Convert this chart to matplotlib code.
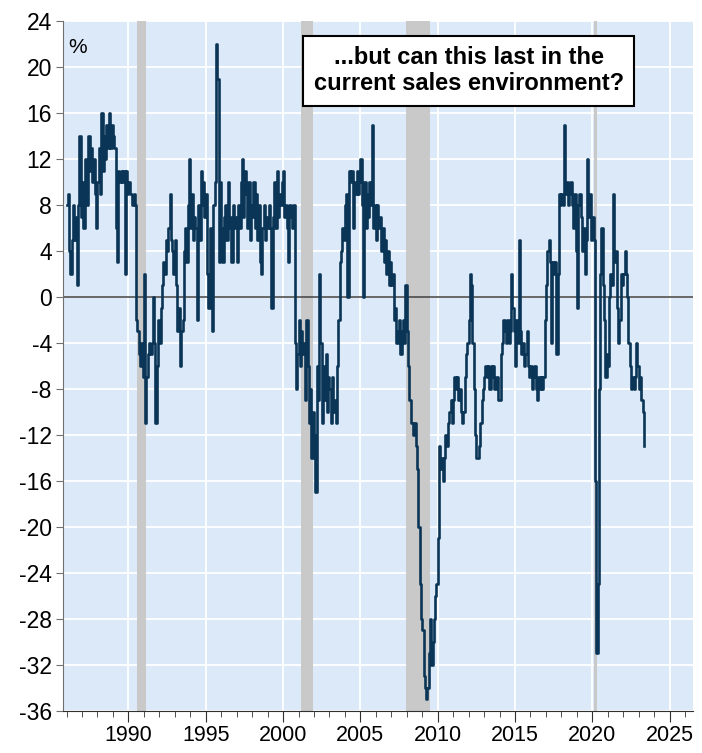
import numpy as np
import matplotlib.pyplot as plt
import matplotlib.ticker as mticker

plt.rcParams['axes.unicode_minus'] = False

## monthly values, %, Jan 1986 - May 2023
v1986 = [8, 9, 4, 2, 5, 8, 5, 7, 1, 8, 14, 7]
v1987 = [10, 6, 12, 9, 8, 14, 11, 13, 10, 12, 9, 6]
v1988 = [10, 13, 9, 16, 11, 14, 12, 15, 13, 16, 13, 15]
v1989 = [14, 13, 6, 3, 11, 10, 11, 10, 11, 2, 11, 9]
v1990 = [10, 9, 9, 8, 9, 8, -2, -3, -5, -6, -4, -7]
v1991 = [2, -11, -7, -5, -4, -5, -4, 0, -4, -11, -6, -2]
v1992 = [-4, -1, 1, 3, 2, 5, 4, 6, 9, 5, 4, 2]
v1993 = [5, 1, -3, -1, -6, -3, -2, 4, 6, 3, 8, 12]
v1994 = [6, 9, 5, 7, 6, -2, 8, 5, 11, 8, 10, 7]
v1995 = [9, 2, -1, 6, 4, -3, 8, 10, 22, 19, 3, 10]
v1996 = [6, 3, 7, 8, 5, 10, 6, 7, 3, 8, 6, 7]
v1997 = [3, 8, 6, 10, 12, 7, 11, 9, 6, 10, 5, 8]
v1998 = [7, 10, 6, 9, 5, 8, 3, 2, 6, 8, 5, 7]
v1999 = [6, 8, 6, -1, 7, 10, 6, 11, 7, 9, 8, 10]
v2000 = [11, 7, 8, 6, 3, 8, 7, 6, 8, -4, -8, -5]
v2001 = [-2, -6, -3, -5, -4, -9, -2, -6, -11, -8, -14, -10]
v2002 = [-12, -17, -6, -9, 2, -4, -11, -6, -9, -5, -10, -7]
v2003 = [-8, -11, -7, -10, -9, -11, -6, -2, 3, 4, 6, 5]
v2004 = [8, 9, 0, 11, 10, 11, 6, 10, 9, 11, 9, 10]
v2005 = [12, 8, 0, 10, 6, 9, 7, 10, 8, 15, 6, 8]
v2006 = [5, 8, 6, 7, 4, 6, 3, 5, 2, 4, 1, 3]
v2007 = [1, 2, -2, -1, -4, -3, -2, -5, -3, -2, -4, 1]
v2008 = [-3, -6, -9, -11, -11, -12, -11, -13, -15, -20, -25, -28]
v2009 = [-29, -33, -34, -35, -34, -31, -28, -32, -30, -28, -26, -25]
v2010 = [-21, -13, -15, -14, -16, -14, -12, -13, -11, -10, -9, -11]
v2011 = [-9, -7, -8, -7, -9, -8, -10, -11, -10, -7, -5, -4]
v2012 = [-2, 2, 1, -4, -8, -12, -14, -14, -13, -11, -9, -8]
v2013 = [-7, -6, -7, -6, -8, -6, -7, -6, -8, -7, -7, -9]
v2014 = [-9, -5, -4, -2, -3, -4, -2, -4, -3, 2, -1, -3]
v2015 = [-6, -2, -4, 5, -3, -5, -4, -6, -5, -3, -6, -7]
v2016 = [-6, -8, -7, -6, -8, -9, -7, -8, -7, -8, -7, -2]
v2017 = [1, 4, 5, 3, -4, 3, 2, 3, -5, 2, 9, 8]
v2018 = [9, 8, 15, 9, 10, 8, 9, 10, 8, 6, 9, 4]
v2019 = [-1, 8, 9, 7, 4, 6, 2, 5, 12, 7, 9, 5]
v2020 = [7, 5, -16, -31, -25, -8, 2, 6, 1, -2, -7, -5]
v2021 = [-6, 0, 2, 1, 9, 3, 4, -1, -4, -2, 2, 1]
v2022 = [2, 4, 2, 0, -4, -6, -8, -7, -8, -7, -4, -6]
v2023 = [-8, -7, -9, -10, -13]

years_data = [v1986, v1987, v1988, v1989, v1990, v1991, v1992, v1993, v1994,
              v1995, v1996, v1997, v1998, v1999, v2000, v2001, v2002, v2003,
              v2004, v2005, v2006, v2007, v2008, v2009, v2010, v2011, v2012,
              v2013, v2014, v2015, v2016, v2017, v2018, v2019, v2020, v2021,
              v2022, v2023]
values = np.concatenate(years_data)
dates = 1986 + np.arange(len(values)) / 12.0

# recessions (start, end)
rec_start = [1990.58, 2001.17, 2007.92, 2020.08]
rec_end = [1991.17, 2001.92, 2009.50, 2020.33]

fig = plt.figure(figsize=(7.02, 7.53), dpi=100)
ax = fig.add_axes([0.0897, 0.0558, 0.8973, 0.9163])
ax.set_facecolor('#dce9f9')

for a, b in zip(rec_start, rec_end):
    ax.axvspan(a, b, color='#c9c9c9', lw=0, zorder=1)

ax.axhline(0, color='#404040', lw=1.1, zorder=2)
ax.step(dates, values, where='post', color='#0b3556', lw=1.9, zorder=3)

ax.set_xlim(1985.77, 2026.5)
ax.set_ylim(-36, 24)
ax.yaxis.set_major_locator(mticker.MultipleLocator(4))
ax.xaxis.set_major_locator(mticker.MultipleLocator(5))
ax.xaxis.set_minor_locator(mticker.MultipleLocator(1))
ax.grid(True, which='major', color='white', lw=1.3, zorder=0)
ax.set_axisbelow(True)

for s in ['top', 'right']:
    ax.spines[s].set_visible(False)
ax.spines['left'].set_color('#707070')
ax.spines['bottom'].set_color('#303030')
ax.tick_params(axis='y', length=5, color='#707070', labelsize=16.5, pad=3)
ax.tick_params(axis='x', which='major', length=8, color='#303030', labelsize=15.5, pad=2)
ax.tick_params(axis='x', which='minor', length=4, color='#303030')
for lab in ax.get_xticklabels() + ax.get_yticklabels():
    lab.set_family(['Liberation Sans'])

ax.text(0.008, 0.975, '%', transform=ax.transAxes, fontsize=15,
        family=['Liberation Sans'], va='top', ha='left')

ax.text(0.644, 0.928, '...but can this last in the\ncurrent sales environment?',
        transform=ax.transAxes, fontsize=17, fontweight='bold',
        family=['Liberation Sans'], ha='center', va='center', linespacing=1.15,
        bbox=dict(boxstyle='square,pad=0.45', fc='white', ec='black', lw=1.5),
        zorder=5)

fig.savefig('out.png', dpi=100)
